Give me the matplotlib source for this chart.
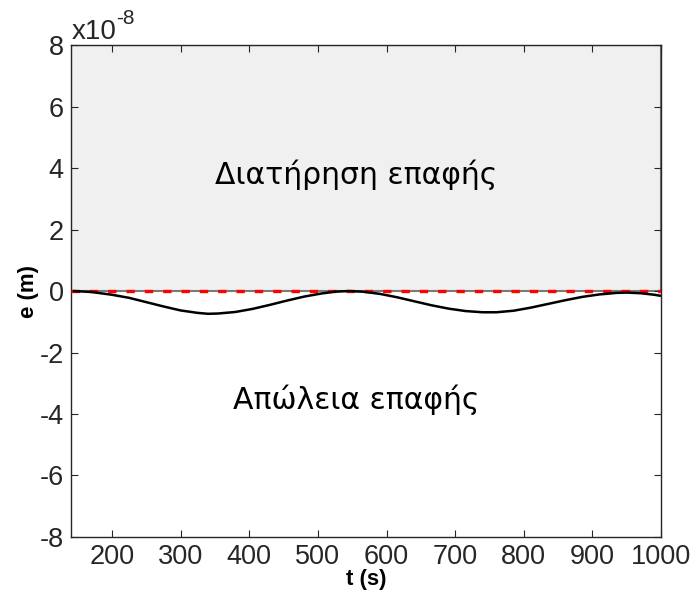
import matplotlib
matplotlib.use("Agg")
import matplotlib.pyplot as plt
from matplotlib.patches import Rectangle

plt.rcParams['font.family'] = ['Liberation Sans', 'DejaVu Sans']

# data (e in units of 1e-8 m)
t = [145, 170, 200, 225, 250, 275, 300, 325, 340, 355, 380, 405, 430, 455, 480,
     505, 525, 545, 565, 590, 615, 640, 665, 690, 715, 740, 760, 785, 810, 835,
     860, 885, 910, 935, 950, 970, 990, 998]
e = [0.0, -0.03, -0.12, -0.22, -0.36, -0.50, -0.63, -0.71, -0.74, -0.73, -0.68,
     -0.58, -0.45, -0.31, -0.18, -0.08, -0.02, 0.0, -0.02, -0.09, -0.20, -0.33,
     -0.46, -0.57, -0.65, -0.69, -0.69, -0.64, -0.54, -0.42, -0.30, -0.19,
     -0.11, -0.06, -0.05, -0.07, -0.12, -0.15]
xticks = [200, 300, 400, 500, 600, 700, 800, 900, 1000]
yticks = [-8, -6, -4, -2, 0, 2, 4, 6, 8]
xlim = (140, 1000)
ylim = (-8, 8)
label_top = "Διατήρηση επαφής"
label_bottom = "Απώλεια επαφής"

fig = plt.figure(figsize=(6.93, 5.94), dpi=100)
ax = fig.add_axes([0.102, 0.096, 0.852, 0.828])

ax.add_patch(Rectangle((xlim[0], 0), xlim[1] - xlim[0], ylim[1],
                       facecolor='#f0f0f0', edgecolor='#7a7a7a', linewidth=1.5, zorder=1))
ax.plot(xlim, [0, 0], color='red', linestyle=(0, (2.5, 3)), linewidth=2.4, zorder=3)
ax.plot(t, e, color='black', linewidth=1.8, zorder=4)

ax.set_xlim(*xlim)
ax.set_ylim(*ylim)
ax.set_xticks(xticks)
ax.set_yticks(yticks)
ax.set_xticklabels([str(v) for v in xticks])
ax.set_yticklabels([str(v) for v in yticks])
ax.tick_params(direction='in', top=True, right=True, length=5, width=0.8,
               labelsize=19.5, colors='#262626', pad=5)
for s in ax.spines.values():
    s.set_color('#262626')
    s.set_linewidth(1.0)

ax.set_xlabel("t (s)", fontsize=16, fontweight='bold', labelpad=-1)
ax.set_ylabel("e (m)", fontsize=16, fontweight='bold', labelpad=0)

ax.annotate("x10", xy=(0.0, 1.0), xycoords='axes fraction', xytext=(1, 0),
            textcoords='offset points', fontsize=20, ha='left', va='bottom',
            color='#262626')
ax.annotate("-8", xy=(0.0, 1.0), xycoords='axes fraction', xytext=(33, 12),
            textcoords='offset points', fontsize=15, ha='left', va='bottom',
            color='#262626')

ax.text(0.484, 0.736, label_top, transform=ax.transAxes, fontsize=21.5,
        ha='center', va='center', family=['DejaVu Sans'])
ax.text(0.484, 0.278, label_bottom, transform=ax.transAxes, fontsize=21.5,
        ha='center', va='center', family=['DejaVu Sans'])

fig.savefig("out.png", dpi=100)
